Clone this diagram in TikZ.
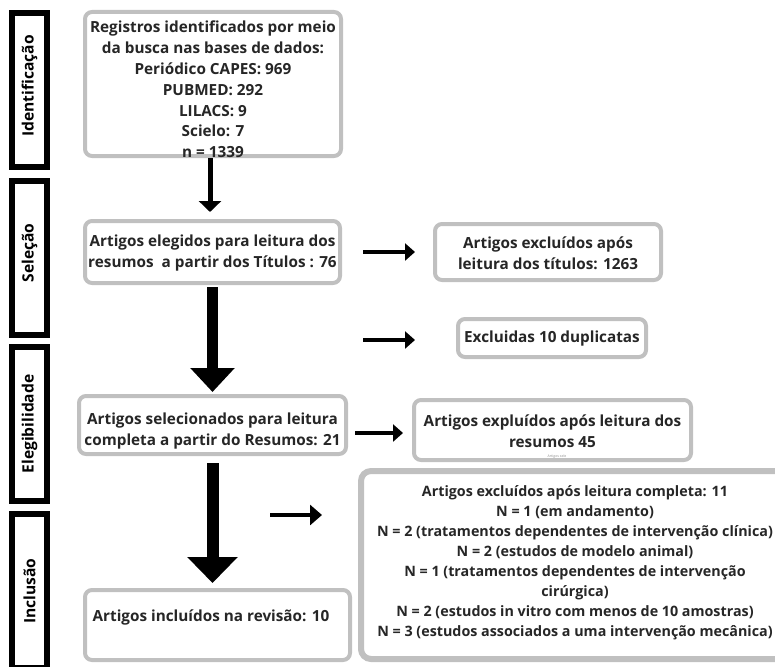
\documentclass[tikz,border=0pt]{standalone}
\usepackage{fontspec}
\setmainfont{Open Sans}
\usetikzlibrary{arrows.meta}
\definecolor{boxgray}{RGB}{192,192,192}
\begin{document}
\begin{tikzpicture}[x=1pt,y=-1pt,
  txt/.style={font=\fontsize{15.3}{20.8}\selectfont\bfseries, align=center, inner sep=0pt, text=black!85},
  gbox/.style={draw=boxgray, line width=4pt, rounded corners=7pt, fill=white, inner sep=0pt},
  phase/.style={draw=black, line width=6pt, fill=white, minimum width=35pt, minimum height=154pt, inner sep=0pt},
  phasetxt/.style={rotate=90, font=\fontsize{15.6}{18}\selectfont\bfseries},
  thinarrow/.style={line width=5pt, -{Triangle[width=22pt,length=11pt]}},
  bigarrow/.style={line width=11pt, -{Triangle[width=43pt,length=24pt]}},
  sidearrow/.style={line width=4.5pt, -{Triangle[width=17pt,length=10pt]}},
]
\useasboundingbox (0,0) rectangle (775,666);
\fill[white] (0,0) rectangle (775,666);
\begin{scope}
\clip (0,0) rectangle (775,666);
% phase boxes
\node[phase] (p1) at (29.5,90) {};
\node[phasetxt] (p1t) at (29.5,86) {Identificação};
\node[phase] (p2) at (29.5,257.5) {};
\node[phasetxt] (p2t) at (29.5,253) {Seleção};
\node[phase] (p3) at (29.5,424) {};
\node[phasetxt] (p3t) at (29.5,424) {Elegibilidade};
\node[phase] (p4) at (29.5,591) {};
\node[phasetxt] (p4t) at (29.5,591) {Inclusão};

% main boxes
\node[gbox, minimum width=256pt, minimum height=144pt] (b1) at (213,84) {};
\node[txt] (t1) at (213,89.5) {Registros identificados por meio\\da busca nas bases de dados:\\Periódico CAPES: 969\\PUBMED: 292\\LILACS: 9\\Scielo: 7\\n = 1339};
\node[gbox, minimum width=255pt, minimum height=62pt] (b2) at (212.5,252) {};
\node[txt] (t2) at (212.5,253) {Artigos elegidos para leitura dos\\resumos\ \ a partir dos Títulos : 76};
\node[gbox, minimum width=267pt, minimum height=58pt] (b3) at (212.5,425) {};
\node[txt] (t3) at (212.5,431) {Artigos selecionados para leitura\\completa a partir do Resumos: 21};
\node[gbox, minimum width=265pt, minimum height=70pt] (b4) at (217.5,625) {};
\node[txt] (t4) at (211,617) {Artigos incluídos na revisão: 10};

% right boxes
\node[gbox, minimum width=226pt, minimum height=56pt] (r1) at (548,252) {};
\node[txt] (tr1) at (548,253) {Artigos excluídos após\\leitura dos títulos: 1263};
\node[gbox, minimum width=188pt, minimum height=38pt] (r2) at (552,338) {};
\node[txt] (tr2) at (552,339) {Excluidas 10 duplicatas};
\node[gbox, minimum width=277pt, minimum height=60pt] (r3) at (552.5,430) {};
\node[txt] (tr3) at (552.5,431) {Artigos expluídos após leitura dos\\resumos 45};
\node[font=\fontsize{3.5}{4}\selectfont, text=black!45, inner sep=0pt] (tiny) at (557,457) {Artigos sele};
\node[gbox, line width=6pt, rounded corners=10pt, minimum width=428pt, minimum height=188pt] (big) at (575,565) {};
\node[txt, font=\fontsize{14.3}{20}\selectfont\bfseries] (tbig) at (575,563) {Artigos excluídos após leitura completa: 11\\N = 1 (em andamento)\\N = 2 (tratamentos dependentes de intervenção clínica)\\N = 2 (estudos de modelo animal)\\N = 1 (tratamentos dependentes de intervenção\\cirúrgica)\\N = 2 (estudos in vitro com menos de 10 amostras)\\N = 3 (estudos associados a uma intervenção mecânica)};

% vertical arrows
\draw[thinarrow, shorten >=7pt] ([xshift=-3pt]b1.south) -- ([xshift=-2.5pt]b2.north);
\draw[bigarrow, shorten <=2pt, shorten >=2pt] (b2.south) -- (b3.north);
\draw[bigarrow, line width=12pt, -{Triangle[width=49pt,length=26pt]}, shorten <=7pt, shorten >=5pt] (b3.south) -- (b3.south |- b4.north);

% side arrows
\draw[sidearrow, shorten <=21pt, shorten >=18pt] (b2.east) -- (r1.west);
\coordinate (c2s) at (363,340);
\coordinate (c2e) at (415,340);
\draw[sidearrow] (c2s) -- (c2e);
\coordinate (c3s) at (355,433);
\draw[sidearrow, shorten >=9pt] (c3s) -- (r3.west |- c3s);
\coordinate (c4s) at (270,515);
\draw[sidearrow, -{Triangle[width=20pt,length=12pt]}, shorten >=36pt] (c4s) -- (big.west |- c4s);
\end{scope}
\end{tikzpicture}
\end{document}
